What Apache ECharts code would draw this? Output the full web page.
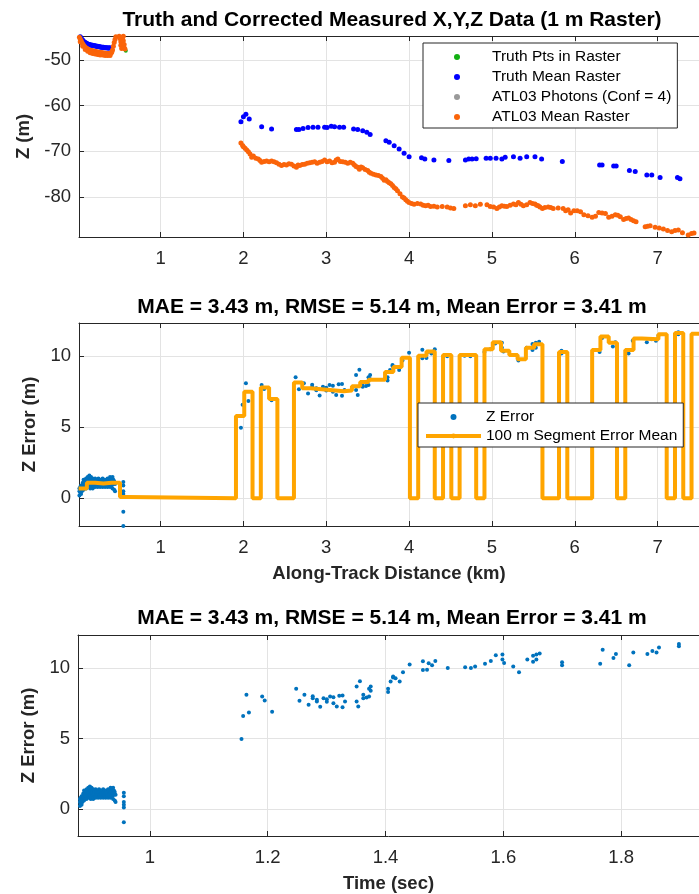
<!DOCTYPE html>
<html><head><meta charset="utf-8">
<script src="https://cdn.jsdelivr.net/npm/echarts@6/dist/echarts.min.js"></script>
<style>html,body{margin:0;padding:0;background:#fff}#c{width:699px;height:894px}</style>
</head><body><div id="c"></div><script>
// ---------- DATA ----------
const distTicks = [1, 2, 3, 4, 5, 6, 7];
const zTicks = [-80, -70, -60, -50];
const errTicks = [0, 5, 10];
const timeTicks = [1, 1.2, 1.4, 1.6, 1.8];

// Truth points in raster (mostly hidden under the mean markers)
const truthPts = [[0.58, -48.0], [0.10, -46.4], [0.30, -47.2]];
// Truth mean raster [km, z]
const truthMean = [
 [0.02,-44.6],[0.03,-44.9],[0.04,-45.2],[0.05,-45.5],[0.06,-45.7],[0.07,-45.9],[0.08,-46.1],[0.09,-46.2],
 [0.10,-46.3],[0.11,-46.4],[0.12,-46.5],[0.13,-46.6],[0.14,-46.6],[0.15,-46.7],[0.16,-46.7],[0.17,-46.8],
 [0.18,-46.8],[0.19,-46.9],[0.20,-46.9],[0.21,-46.9],[0.22,-47.0],[0.23,-47.0],[0.24,-47.0],[0.25,-47.1],
 [0.26,-47.1],[0.27,-47.1],[0.28,-47.2],[0.29,-47.2],[0.30,-47.2],[0.31,-47.2],[0.32,-47.3],[0.33,-47.3],
 [0.34,-47.3],[0.35,-47.3],[0.36,-47.4],[0.37,-47.4],[0.38,-47.4],[0.39,-47.3],
 [1.97,-63.5],[2.00,-62.4],[2.03,-61.9],[2.07,-62.9],[2.22,-64.6],[2.34,-65.1],
 [2.64,-65.2],[2.67,-65.2],[2.72,-65.0],[2.78,-64.8],[2.84,-64.7],[2.90,-64.7],[2.98,-64.7],[3.01,-64.8],
 [3.06,-64.5],[3.10,-64.6],[3.16,-64.7],[3.21,-64.7],[3.33,-65.1],[3.38,-65.2],[3.44,-65.5],[3.49,-65.8],
 [3.53,-66.3],[3.72,-67.7],[3.76,-68.0],[3.82,-68.8],[3.88,-69.5],[3.94,-70.4],[4.00,-71.2],[4.15,-71.4],
 [4.19,-71.7],[4.30,-71.9],[4.48,-72.0],[4.68,-71.9],[4.72,-71.7],[4.76,-71.7],[4.81,-71.6],[4.93,-71.5],
 [4.98,-71.5],[5.05,-71.5],[5.12,-71.7],[5.16,-71.3],[5.26,-71.2],[5.34,-71.5],[5.42,-71.2],[5.52,-71.2],
 [5.60,-71.7],[5.85,-72.2],[6.30,-73.0],[6.33,-73.0],[6.47,-73.2],[6.50,-73.2],[6.66,-74.2],[6.73,-74.4],
 [6.87,-75.2],[6.93,-75.2],[7.03,-75.7],[7.24,-75.7],[7.27,-76.0]
];
// ATL03 photons (Conf = 4): none visible
const photonPts = [];
// ATL03 mean raster [km, z]
const atlMean = [
 [0.02,-45.0],[0.03,-45.4],[0.04,-45.8],[0.05,-46.2],[0.06,-46.5],[0.07,-46.8],[0.08,-47.0],[0.09,-47.2],
 [0.10,-47.4],[0.11,-47.5],[0.12,-47.6],[0.13,-47.7],[0.14,-47.8],[0.15,-47.9],[0.16,-47.9],[0.17,-48.0],
 [0.18,-48.0],[0.19,-48.1],[0.20,-48.1],[0.21,-48.2],[0.22,-48.2],[0.23,-48.2],[0.24,-48.3],[0.25,-48.3],
 [0.26,-48.3],[0.27,-48.4],[0.28,-48.4],[0.29,-48.4],[0.30,-48.4],[0.31,-48.5],[0.32,-48.5],[0.33,-48.5],
 [0.34,-48.5],[0.35,-48.6],[0.36,-48.6],[0.37,-48.6],[0.38,-48.6],[0.39,-48.6],[0.40,-48.5],[0.41,-48.3],
 [0.03,-46.0],[0.06,-47.0],[0.09,-47.7],[0.12,-48.1],[0.15,-48.4],[0.18,-48.6],[0.21,-48.7],[0.24,-48.8],
 [0.27,-48.9],[0.30,-48.9],[0.33,-49.0],[0.36,-49.0],[0.39,-49.0],
 [0.42,-47.8],[0.43,-47.0],[0.44,-46.2],[0.45,-45.5],[0.46,-44.9],[0.47,-44.6],[0.48,-44.7],[0.49,-44.6],
 [0.50,-44.8],[0.51,-45.3],[0.52,-46.0],[0.52,-46.8],[0.53,-47.5],[0.54,-45.2],[0.55,-44.8],[0.55,-45.8],
 [0.56,-46.6],[0.56,-47.3],[0.57,-47.6],
 [1.97,-68.2],[1.99,-68.7],[2.00,-69.0],[2.02,-69.3],[2.04,-69.7],[2.06,-70.1],[2.08,-70.6],[2.10,-71.3],
 [2.12,-71.0],[2.15,-71.5],[2.18,-71.7],[2.20,-72.0],[2.22,-72.4],[2.25,-72.2],[2.28,-72.1],[2.31,-72.3],
 [2.34,-72.1],[2.37,-72.3],[2.40,-72.5],[2.43,-72.8],[2.46,-73.1],[2.49,-72.9],[2.52,-73.0],[2.55,-72.7],
 [2.58,-72.8],[2.61,-73.2],[2.64,-73.5],[2.66,-73.0],[2.68,-73.1],[2.71,-72.9],[2.74,-72.8],[2.77,-72.6],
 [2.80,-72.5],[2.83,-72.4],[2.86,-72.3],[2.89,-72.6],[2.92,-72.4],[2.95,-72.2],[2.98,-71.9],[3.01,-72.3],
 [3.04,-72.1],[3.07,-72.5],[3.10,-72.4],[3.12,-71.9],[3.14,-71.7],[3.17,-72.2],[3.20,-72.3],[3.23,-72.4],
 [3.26,-72.6],[3.29,-72.4],[3.32,-72.6],[3.34,-73.0],[3.36,-73.3],[3.38,-73.5],[3.40,-73.9],[3.42,-73.4],
 [3.44,-73.6],[3.47,-74.0],[3.50,-74.2],[3.52,-74.6],[3.54,-74.8],[3.57,-75.0],[3.60,-75.2],[3.63,-75.3],
 [3.66,-75.5],[3.68,-75.9],[3.70,-76.3],[3.72,-76.2],[3.74,-76.6],[3.76,-76.9],[3.78,-77.1],[3.80,-77.5],
 [3.82,-77.9],[3.84,-78.2],[3.86,-78.6],[3.89,-79.3],[3.92,-80.0],[3.94,-80.2],[3.96,-80.6],[3.98,-80.9],
 [4.00,-81.2],[4.03,-81.4],[4.06,-81.6],[4.10,-81.4],[4.14,-81.5],[4.17,-81.8],[4.20,-81.9],[4.23,-81.8],
 [4.26,-82.1],[4.30,-82.0],[4.34,-82.2],[4.40,-82.1],[4.46,-82.2],[4.50,-82.4],[4.54,-82.5],[4.68,-81.9],
 [4.74,-81.7],[4.80,-81.9],[4.86,-81.6],[4.94,-81.7],[4.98,-82.1],[5.02,-82.2],[5.06,-82.5],[5.09,-82.2],
 [5.12,-81.9],[5.15,-82.0],[5.18,-82.1],[5.22,-81.8],[5.26,-81.5],[5.29,-81.7],[5.32,-81.2],[5.35,-81.6],
 [5.38,-81.9],[5.42,-81.7],[5.46,-81.2],[5.49,-81.4],[5.52,-81.5],[5.54,-81.8],[5.56,-81.9],[5.58,-82.2],
 [5.61,-82.5],[5.64,-82.3],[5.68,-82.2],[5.71,-82.3],[5.74,-82.5],[5.80,-82.4],[5.86,-82.5],[5.89,-83.0],
 [5.92,-82.8],[5.95,-83.5],[5.99,-83.0],[6.03,-83.0],[6.07,-83.2],[6.11,-83.9],[6.16,-84.1],[6.21,-84.4],
 [6.25,-84.2],[6.29,-83.4],[6.33,-83.5],[6.37,-83.6],[6.41,-84.4],[6.45,-84.2],[6.49,-83.9],[6.52,-84.0],
 [6.55,-84.3],[6.59,-84.9],[6.62,-84.7],[6.65,-84.6],[6.68,-84.9],[6.71,-85.2],[6.74,-85.4],[6.85,-86.5],
 [6.88,-86.4],[6.91,-86.3],[6.97,-86.6],[7.02,-86.8],[7.07,-87.0],[7.12,-87.3],[7.17,-87.6],[7.21,-87.3],
 [7.25,-87.2],[7.30,-87.8],[7.37,-88.3],[7.41,-88.0],[7.44,-87.9]
];

// Z error columns: [along-track km, time s, [errors m]]
const errCols = [
 [0.02,0.8813,[0.2,0.5,0.7]],[0.03,0.8827,[0.4,0.8]],[0.04,0.8841,[0.3,0.6,0.9]],[0.05,0.8855,[0.5,0.9]],
 [0.06,0.8869,[0.7,1.1]],[0.07,0.8883,[0.6,1.0,1.3]],[0.08,0.8897,[0.8,1.2]],[0.09,0.8912,[0.9,1.3,1.1]],
 [0.10,0.8926,[0.7,1.2,1.4]],[0.11,0.8940,[1.0,1.3]],[0.12,0.8954,[0.8,1.1,1.5]],[0.13,0.8968,[0.9,1.4]],
 [0.14,0.8982,[1.0,1.2,1.6]],[0.15,0.8996,[0.7,1.3]],[0.16,0.9010,[0.8,1.1,1.5]],[0.17,0.9024,[0.9,1.2]],
 [0.18,0.9038,[0.7,1.0,1.4]],[0.19,0.9052,[0.8,1.3]],[0.20,0.9066,[0.9,1.1,1.2]],[0.21,0.9080,[0.8,1.4]],
 [0.22,0.9094,[1.0,1.2]],[0.23,0.9108,[0.9,1.3]],[0.24,0.9122,[0.8,1.1,1.2]],[0.25,0.9137,[1.0,1.4]],
 [0.26,0.9151,[0.9,1.2]],[0.27,0.9165,[0.8,1.1,1.3]],[0.28,0.9179,[1.0,1.2]],[0.29,0.9193,[0.9,1.3]],
 [0.30,0.9207,[0.8,1.1,1.4]],[0.31,0.9221,[1.0,1.2]],[0.32,0.9235,[0.9,1.3]],[0.33,0.9249,[0.8,1.1]],
 [0.34,0.9263,[1.0,1.3,1.2]],[0.35,0.9277,[0.9,1.1]],[0.36,0.9291,[0.8,1.2,1.4]],[0.37,0.9305,[1.0,1.3]],
 [0.38,0.9319,[0.9,1.1]],[0.39,0.9333,[0.8,1.2,1.5]],[0.40,0.9347,[1.0,1.3]],[0.41,0.9361,[0.9,1.4]],
 [0.42,0.9376,[0.7,1.1,1.5]],[0.43,0.9390,[1.0,1.3]],[0.44,0.9404,[0.6,1.2]],[0.45,0.9418,[0.5,1.0]],
 [0.55,0.9558,[1.15,0.9,0.5,0.3,0.1,-0.94,-1.95]],
 [1.97,1.1555,[4.97]],[1.99,1.1583,[6.6]],[2.03,1.1639,[8.1]],[2.06,1.1681,[6.85]],
 [2.22,1.1906,[7.98]],[2.25,1.1949,[7.7]],[2.34,1.2075,[6.9]],[2.63,1.2483,[8.52]],
 [2.67,1.2539,[7.68]],[2.73,1.2623,[8.1]],[2.78,1.2694,[7.39]],[2.83,1.2764,[8.0,7.85]],
 [2.88,1.2834,[7.62,7.75]],[2.92,1.2891,[7.25]],[2.96,1.2947,[7.86]],[3.00,1.3003,[7.6,7.78]],
 [3.04,1.3059,[7.98]],[3.08,1.3115,[7.5,7.93]],[3.12,1.3172,[7.27]],[3.15,1.3214,[8.03]],
 [3.19,1.3270,[7.22,8.05]],[3.22,1.3312,[7.63]],[3.36,1.3509,[8.68,7.63]],[3.38,1.3537,[7.27]],
 [3.40,1.3565,[9.06]],[3.44,1.3622,[7.86,8.1]],[3.48,1.3678,[7.91]],[3.51,1.3720,[8.52,7.98]],
 [3.53,1.3748,[8.68,8.38]],[3.74,1.4043,[8.3,8.52]],[3.77,1.4086,[9.04]],[3.80,1.4128,[9.32,9.39]],
 [3.83,1.4170,[9.27]],[3.88,1.4240,[9.04]],[3.92,1.4296,[9.7]],[4.00,1.4409,[10.25]],
 [4.16,1.4634,[9.86,10.47]],[4.21,1.4704,[9.88]],[4.23,1.4732,[10.33]],[4.27,1.4789,[10.2]],
 [4.31,1.4845,[10.5]],[4.46,1.5056,[10.0]],[4.67,1.5351,[10.05]],[4.74,1.5449,[10.0]],
 [4.79,1.5520,[10.1]],[4.91,1.5688,[10.3]],[4.98,1.5787,[10.5]],[5.04,1.5871,[10.9]],
 [5.12,1.5984,[10.96,10.6]],[5.14,1.6012,[10.35]],[5.25,1.6167,[10.1]],[5.32,1.6265,[9.7]],
 [5.42,1.6406,[10.6]],[5.49,1.6504,[10.87,10.45]],[5.53,1.6560,[10.6,10.96]],[5.57,1.6616,[11.03]],
 [5.84,1.6996,[10.2,10.4]],[6.30,1.7643,[10.3]],[6.33,1.7685,[11.3]],[6.46,1.7868,[10.7]],
 [6.49,1.7910,[11.0]],[6.65,1.8135,[10.2]],[6.70,1.8205,[11.1]],[6.87,1.8444,[11.0]],
 [6.93,1.8529,[11.2]],[6.98,1.8599,[11.1]],[7.01,1.8641,[11.45]],[7.25,1.8979,[11.7,11.55]]
];

// 100 m segment error mean: segment start (km) and value (m)
const segStart = [0.01,0.11,0.21,0.31,0.41,0.51,0.61,1.91,2.01,2.11,2.21,2.31,2.41,2.61,2.71,2.81,2.91,3.01,3.11,3.21,3.31,3.41,3.51,3.71,3.81,3.91,4.01,4.11,4.21,4.31,4.41,4.51,4.61,4.81,4.91,5.01,5.11,5.21,5.31,5.41,5.51,5.61,5.81,5.91,6.21,6.31,6.41,6.51,6.61,6.71,6.81,7.01,7.11,7.21,7.31,7.41];
const segValue = [0.7,1.1,1.05,1.1,1.1,0.1,0,5.8,7.5,0,7.8,7.0,0,8.15,7.75,7.7,7.65,7.6,7.55,7.6,7.9,8.2,8.35,8.9,9.25,9.9,0,10.05,10.35,0,10.1,0,10.1,0,10.5,11.0,10.4,10.1,9.8,10.6,10.85,0,10.3,0,10.45,11.4,10.95,0,10.45,11.25,11.2,11.55,0,11.65,0,11.6];
const segEnd = 7.51;

// ---------- BUILD ----------
const errDist = [], errTime = [];
errCols.forEach(c => c[2].forEach(v => { errDist.push([c[0], v]); errTime.push([c[1], v]); }));
const segLine = segStart.map((s, i) => [s, segValue[i]]);
segLine.push([segEnd, segValue[segValue.length - 1]]);

const FONT = '"Liberation Sans", Arial, Helvetica, sans-serif';
const AX = '#262626';
const GRIDC = '#e3e3e3';

function xMain(gi, min, max, ticks, name) {
  return {
    type: 'value', gridIndex: gi, position: 'bottom', min, max,
    axisLine: { show: true, onZero: false, lineStyle: { color: AX, width: 1 } },
    axisTick: { show: true, inside: true, length: 5, customValues: ticks, lineStyle: { color: AX } },
    axisLabel: { customValues: ticks, color: AX, fontSize: 18.5, fontFamily: FONT, margin: 12 },
    splitLine: { show: true, lineStyle: { color: GRIDC, width: 1 } },
    name: name || '', nameLocation: 'middle', nameGap: 38,
    nameTextStyle: { color: AX, fontSize: 18.5, fontWeight: 'bold', fontFamily: FONT }
  };
}
function xTop(gi, min, max, ticks) {
  return {
    type: 'value', gridIndex: gi, position: 'top', min, max,
    axisLine: { show: true, onZero: false, lineStyle: { color: AX, width: 1 } },
    axisTick: { show: true, inside: true, length: 5, customValues: ticks, lineStyle: { color: AX } },
    axisLabel: { show: false }, splitLine: { show: false }
  };
}
function yMain(gi, min, max, ticks, name, gap) {
  return {
    type: 'value', gridIndex: gi, min, max,
    axisLine: { show: true, onZero: false, lineStyle: { color: AX, width: 1 } },
    axisTick: { show: true, inside: true, length: 5, customValues: ticks, lineStyle: { color: AX } },
    axisLabel: { customValues: ticks, color: AX, fontSize: 18.5, fontFamily: FONT, margin: 8 },
    splitLine: { show: true, lineStyle: { color: GRIDC, width: 1 } },
    name, nameLocation: 'middle', nameGap: gap,
    nameTextStyle: { color: AX, fontSize: 18.5, fontWeight: 'bold', fontFamily: FONT }
  };
}

const chart = echarts.init(document.getElementById('c'), null, { renderer: 'canvas' });
const titleStyle = { fill: '#000', font: 'bold 21px ' + FONT, align: 'center', verticalAlign: 'middle' };
chart.setOption({
  animation: false,
  backgroundColor: '#fff',
  graphic: [
    { type: 'text', x: 392, y: 20, style: Object.assign({ text: 'Truth and Corrected Measured X,Y,Z Data (1 m Raster)' }, titleStyle) },
    { type: 'text', x: 392, y: 307, style: Object.assign({ text: 'MAE = 3.43 m, RMSE = 5.14 m, Mean Error = 3.41 m' }, titleStyle) },
    { type: 'text', x: 392, y: 618, style: Object.assign({ text: 'MAE = 3.43 m, RMSE = 5.14 m, Mean Error = 3.41 m' }, titleStyle) }
  ],
  grid: [
    { left: 79, top: 36, width: 626, height: 201 },
    { left: 79, top: 323, width: 626, height: 203 },
    { left: 78, top: 635, width: 627, height: 203 }
  ],
  xAxis: [
    xMain(0, 0.015, 7.5, distTicks), xTop(0, 0.015, 7.5, distTicks),
    xMain(1, 0.015, 7.5, distTicks, 'Along-Track Distance (km)'), xTop(1, 0.015, 7.5, distTicks),
    xMain(2, 0.878, 1.932, timeTicks, 'Time (sec)'), xTop(2, 0.878, 1.932, timeTicks)
  ],
  yAxis: [
    yMain(0, -88.75, -44.75, zTicks, 'Z (m)', 44),
    yMain(1, -1.95, 12.35, errTicks, 'Z Error (m)', 36),
    yMain(2, -1.92, 12.34, errTicks, 'Z Error (m)', 36)
  ],
  legend: [
    {
      orient: 'vertical', left: 423, top: 43,
      data: ['Truth Pts in Raster', 'Truth Mean Raster', 'ATL03 Photons (Conf = 4)', 'ATL03 Mean Raster'],
      itemWidth: 60, itemHeight: 6, itemGap: 4, padding: [6, 6, 3, 31],
      backgroundColor: '#fff', borderColor: AX, borderWidth: 1, borderRadius: 0,
      textStyle: { fontSize: 15.5, color: '#000', fontFamily: FONT, lineHeight: 16 },
      selectedMode: false
    },
    {
      orient: 'vertical', left: 418, top: 403,
      data: ['Z Error', '100 m Segment Error Mean'],
      itemWidth: 55, itemHeight: 6, itemGap: 3, padding: [6, 6, 3, 6],
      backgroundColor: '#fff', borderColor: AX, borderWidth: 1, borderRadius: 0,
      lineStyle: { width: 4 },
      textStyle: { fontSize: 15.5, color: '#000', fontFamily: FONT, lineHeight: 16 },
      selectedMode: false
    }
  ],
  series: [
    { name: 'Truth Pts in Raster', type: 'scatter', xAxisIndex: 0, yAxisIndex: 0, symbolSize: 4,
      itemStyle: { color: '#12b012', opacity: 1 }, data: truthPts },
    { name: 'Truth Mean Raster', type: 'scatter', xAxisIndex: 0, yAxisIndex: 0, symbolSize: 5,
      itemStyle: { color: '#0000ff', opacity: 1 }, data: truthMean },
    { name: 'ATL03 Photons (Conf = 4)', type: 'scatter', xAxisIndex: 0, yAxisIndex: 0, symbolSize: 4,
      itemStyle: { color: '#999999', opacity: 1 }, data: photonPts },
    { name: 'ATL03 Mean Raster', type: 'scatter', xAxisIndex: 0, yAxisIndex: 0, symbolSize: 5,
      itemStyle: { color: '#fa640a', opacity: 1 }, data: atlMean },
    { name: 'Z Error', type: 'scatter', xAxisIndex: 2, yAxisIndex: 1, symbolSize: 4,
      itemStyle: { color: '#0072bd', opacity: 1 }, data: errDist },
    { name: '100 m Segment Error Mean', type: 'line', xAxisIndex: 2, yAxisIndex: 1, step: 'end',
      symbol: 'none', showSymbol: false, lineStyle: { color: '#ffa500', width: 4 },
      itemStyle: { color: '#ffa500' }, data: segLine },
    { name: 'Z Error vs Time', type: 'scatter', xAxisIndex: 4, yAxisIndex: 2, symbolSize: 4,
      itemStyle: { color: '#0072bd', opacity: 1 }, data: errTime }
  ]
});
</script></body></html>
